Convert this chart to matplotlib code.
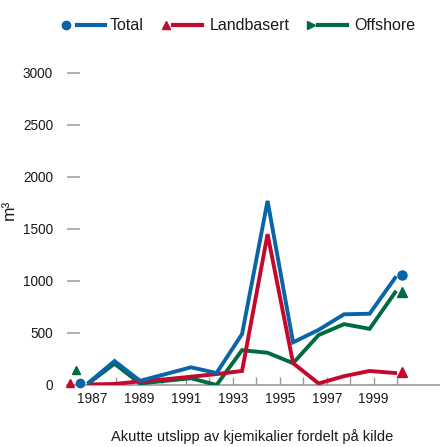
import numpy as np
import matplotlib
matplotlib.use("Agg")
import matplotlib.pyplot as plt
from matplotlib.lines import Line2D

plt.rcParams['font.family'] = ['Liberation Sans', 'DejaVu Sans']

# acute discharges of chemicals (m3), one value per year
years = ['1987', '1988', '1989', '1990', '1991', '1992', '1993',
         '1994', '1995', '1996', '1997', '1998', '1999']
total = [25, 230, 40, 105, 170, 115, 490, 1770, 410, 530, 680, 685, 1030]
landbasert = [5, 10, 35, 55, 80, 105, 135, 1450, 210, 15, 85, 135, 115]
offshore = [20, 205, 15, 40, 65, 0, 335, 310, 210, 480, 585, 540, 890]

# single markers shown at the start and end of each series
start_vals = {'Total': 15, 'Landbasert': 20, 'Offshore': 140}
end_vals = {'Total': 1055, 'Landbasert': 125, 'Offshore': 890}

tick_years = list(range(1987, 2001))
yticks = [0, 500, 1000, 1500, 2000, 2500, 3000]

blue = '#0a64a8'
red = '#c4092f'
green = '#006a40'
grey = '#9a9a9a'
txt = '#1a1a1a'

fig = plt.figure(figsize=(4.4, 4.47), dpi=100)
ax = fig.add_axes([67 / 440, 62 / 447, 373 / 440, 312 / 447])

x = np.arange(len(years))
series = [('Offshore', offshore, green, '^'),
          ('Landbasert', landbasert, red, '^'),
          ('Total', total, blue, 'o')]
start_off = {'Total': -0.35, 'Landbasert': -0.75, 'Offshore': -0.51}

for name, vals, col, mk in series:
    ax.plot(x, vals, color=col, lw=2.8, solid_joinstyle='miter', zorder=3)
    ax.plot(start_off[name], start_vals[name], marker=mk, color=col, ms=6,
            ls='none', clip_on=False, zorder=4)
    ax.plot(x[-1] + 0.28, end_vals[name], marker=mk, color=col, ms=6.5,
            ls='none', clip_on=False, zorder=4)

ax.set_xlim(-0.863, 13.76)
ax.set_ylim(0, 3000)

# year ticks are spaced a bit tighter than the data points
tpos = 0.12 + (np.array(tick_years) - 1987) * 0.92
ax.set_xticks(tpos)
ax.set_xticklabels([str(t) if t % 2 == 1 and t < 2000 else '' for t in tick_years])
ax.set_yticks(yticks)
ax.set_yticklabels([str(v) for v in yticks])

ax.tick_params(axis='x', direction='in', length=6, width=1, color=grey,
               labelsize=9.8, labelcolor=txt, pad=5)
ax.tick_params(axis='y', direction='in', length=9, width=1.1, color=grey,
               labelsize=9.8, labelcolor=txt, pad=10)

for s in ['left', 'top', 'right']:
    ax.spines[s].set_visible(False)
ax.spines['bottom'].set_color(grey)
ax.spines['bottom'].set_linewidth(1.2)

fig.text(9 / 440, 1 - 210 / 447, 'm³', rotation=90, ha='center', va='center',
         fontsize=12.5, color=txt)
fig.text(252 / 440, 1 - 437 / 447, 'Akutte utslipp av kjemikalier fordelt på kilde',
         ha='center', va='center', fontsize=10.5, color=txt)

# legend along the top
ly = 1 - 25 / 447
leg = [('Total', blue, 'o', 66, 77, 105, 110),
       ('Landbasert', red, '^', 166, 173, 202, 210),
       ('Offshore', green, '>', 311, 318, 347, 354)]
for name, col, mk, mx, l0, l1, tx in leg:
    fig.add_artist(Line2D([mx / 440], [ly], marker=mk, color=col, ms=6,
                          ls='none', transform=fig.transFigure))
    fig.add_artist(Line2D([l0 / 440, l1 / 440], [ly, ly], color=col, lw=3,
                          transform=fig.transFigure))
    fig.text(tx / 440, ly, name, ha='left', va='center', fontsize=11.5, color=txt)

fig.savefig('out.png', dpi=100)
